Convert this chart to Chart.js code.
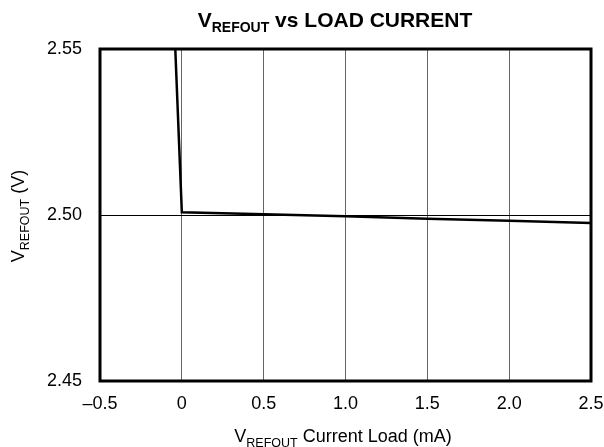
<!DOCTYPE html>
<html>
<head>
<meta charset="utf-8">
<script src="https://cdn.jsdelivr.net/npm/chart.js@4"></script>
<style>
  html, body { margin: 0; padding: 0; background: #fff; }
</style>
</head>
<body>
<canvas id="grafico" width="604" height="447"></canvas>
<script>
// dados
const corrente = [-0.04, 0, 0.5, 1.0, 1.5, 2.0, 2.5];
const tensao = [2.55, 2.5008, 2.5002, 2.4996, 2.4989, 2.4983, 2.4976];
const ticksX = [-0.5, 0, 0.5, 1.0, 1.5, 2.0, 2.5];
const ticksY = [2.45, 2.50, 2.55];

const FONTE = '"Liberation Sans", Arial, sans-serif';

// escreve texto com subscrito, partes = [[texto, sub], ...]
function textoSub(ctx, partes, x, y, tam, tamSub, negrito) {
  const peso = negrito ? 'bold ' : '';
  let largura = 0;
  partes.forEach(p => {
    ctx.font = peso + (p[1] ? tamSub : tam) + 'px ' + FONTE;
    largura += ctx.measureText(p[0]).width;
  });
  let cx = x - largura / 2;
  ctx.textAlign = 'left';
  ctx.textBaseline = 'alphabetic';
  ctx.fillStyle = '#000';
  partes.forEach(p => {
    ctx.font = peso + (p[1] ? tamSub : tam) + 'px ' + FONTE;
    ctx.fillText(p[0], cx, p[1] ? y + tam * 0.25 : y);
    cx += ctx.measureText(p[0]).width;
  });
}

const textos = {
  id: 'textos',
  afterDraw(chart) {
    const ctx = chart.ctx;
    const a = chart.chartArea;
    ctx.save();
    // moldura
    ctx.strokeStyle = '#000';
    ctx.lineWidth = 3;
    ctx.strokeRect(a.left, a.top, a.right - a.left, a.bottom - a.top);
    textoSub(ctx, [['V', false], ['REFOUT', true], [' vs LOAD CURRENT', false]], 335, 27, 21, 14, true);
    textoSub(ctx, [['V', false], ['REFOUT', true], [' Current Load (mA)', false]], 343, 442, 18, 12.5, false);
    ctx.translate(24, 216);
    ctx.rotate(-Math.PI / 2);
    textoSub(ctx, [['V', false], ['REFOUT', true], [' (V)', false]], 0, 0, 18, 12.5, false);
    ctx.restore();
  }
};

new Chart(document.getElementById('grafico'), {
  type: 'line',
  data: {
    datasets: [{
      data: corrente.map((x, i) => ({ x: x, y: tensao[i] })),
      borderColor: '#000',
      borderWidth: 2.5,
      pointRadius: 0,
      tension: 0,
      fill: false
    }]
  },
  options: {
    responsive: false,
    animation: false,
    layout: { padding: { top: 49, right: 13, left: 0, bottom: 0 } },
    plugins: { legend: { display: false }, tooltip: { enabled: false } },
    scales: {
      x: {
        type: 'linear',
        min: -0.5,
        max: 2.5,
        afterFit: s => { s.height = 66; s.paddingLeft = 0; s.paddingRight = 0; },
        afterBuildTicks: s => { s.ticks = ticksX.map(v => ({ value: v })); },
        ticks: {
          color: '#000',
          font: { family: FONTE, size: 18 },
          padding: 12,
          maxRotation: 0,
          callback: v => v === 0 ? '0' : (v < 0 ? '\u2013' + Math.abs(v).toFixed(1) : v.toFixed(1))
        },
        grid: {
          color: c => (c.tick && (c.tick.value === -0.5 || c.tick.value === 2.5)) ? 'rgba(0,0,0,0)' : '#666',
          lineWidth: 1,
          drawTicks: false
        },
        border: { display: false }
      },
      y: {
        min: 2.45,
        max: 2.55,
        afterFit: s => { s.width = 100; s.paddingTop = 0; s.paddingBottom = 0; },
        afterBuildTicks: s => { s.ticks = ticksY.map(v => ({ value: v })); },
        ticks: {
          color: '#000',
          font: { family: FONTE, size: 18 },
          padding: 18,
          callback: v => v.toFixed(2)
        },
        grid: {
          color: c => (c.tick && Math.abs(c.tick.value - 2.5) < 1e-6) ? '#000' : 'rgba(0,0,0,0)',
          lineWidth: 1,
          drawTicks: false
        },
        border: { display: false }
      }
    }
  },
  plugins: [textos]
});
</script>
</body>
</html>
